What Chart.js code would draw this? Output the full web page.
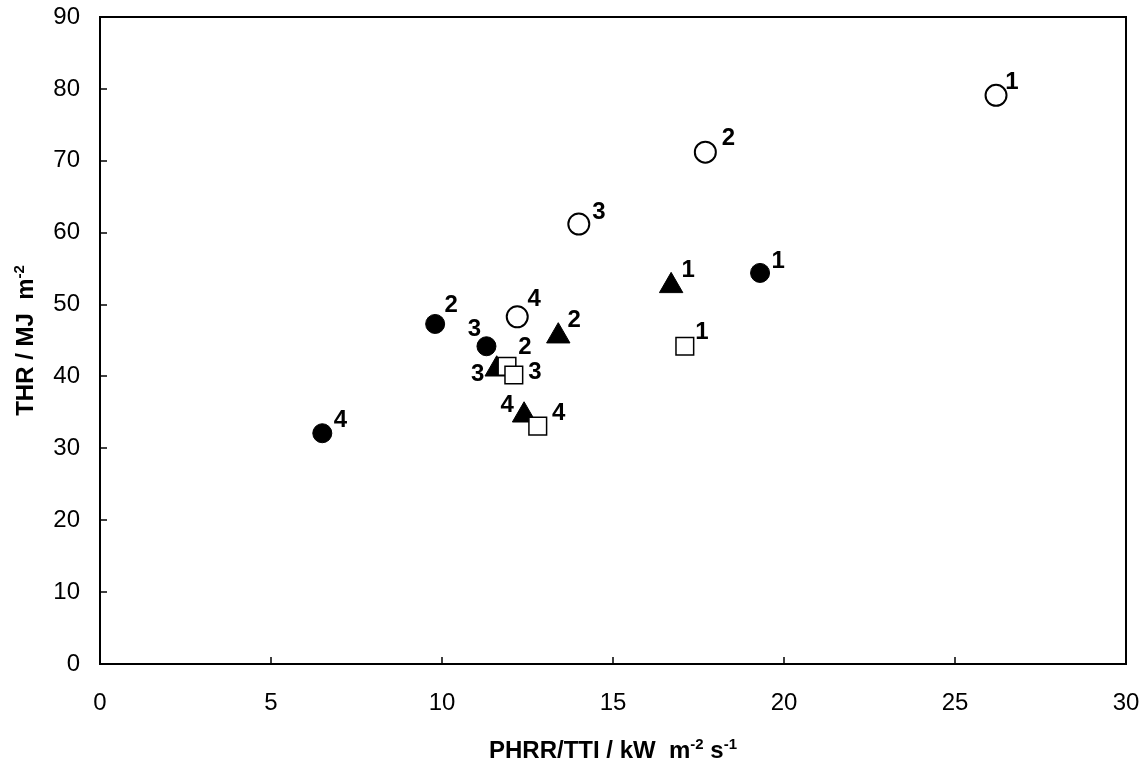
<!DOCTYPE html>
<html>
<head>
<meta charset="utf-8">
<title>THR vs PHRR/TTI</title>
<script src="https://cdn.jsdelivr.net/npm/chart.js@4"></script>
<style>
  html, body { margin: 0; padding: 0; background: #fff; }
  #wrap { width: 1146px; height: 766px; position: relative; }
</style>
</head>
<body>
<div id="wrap"><canvas id="c"></canvas></div>
<script>
// Sample numbers shown next to each marker
const pointNames = ['1', '2', '3', '4'];

// Open circles
const openCircleX = [26.2, 17.7, 14.0, 12.2];
const openCircleY = [79.1, 71.2, 61.2, 48.3];
// Filled circles
const filledCircleX = [19.3, 9.8, 11.3, 6.5];
const filledCircleY = [54.4, 47.3, 44.2, 32.1];
// Filled triangles
const triangleX = [16.7, 13.4, 11.6, 12.4];
const triangleY = [52.6, 45.6, 41.0, 34.6];
// Open squares
const squareX = [17.1, 11.9, 12.1, 12.8];
const squareY = [44.2, 41.4, 40.2, 33.1];

// Axis tick values
const xTickValues = [0, 5, 10, 15, 20, 25, 30];
const yTickValues = [0, 10, 20, 30, 40, 50, 60, 70, 80, 90];

// Where each number sits relative to its marker (pixels)
const openCircleLabelPos   = [[16, -13], [23, -14], [20, -12], [17, -17]];
const filledCircleLabelPos = [[18, -12], [16, -19], [-12, -17], [18, -13]];
const triangleLabelPos     = [[17, -15], [16, -16], [-19, 5], [-17, -10]];
const squareLabelPos       = [[17, -14], [18, -19], [21, -3], [21, -13]];

const FONT = '"Liberation Sans", Arial, Helvetica, sans-serif';

function toPoints(xs, ys) {
  return xs.map((x, i) => ({ x: x, y: ys[i] }));
}

// Plot frame and inward tick marks
const framePlugin = {
  id: 'frame',
  beforeDatasetsDraw(chart) {
    const { ctx, chartArea: a, scales: { x, y } } = chart;
    ctx.save();
    ctx.strokeStyle = '#000';
    ctx.lineWidth = 2;
    ctx.strokeRect(a.left, a.top, a.right - a.left, a.bottom - a.top);
    ctx.lineWidth = 1.5;
    ctx.beginPath();
    x.ticks.forEach(t => {
      const px = Math.round(x.getPixelForValue(t.value));
      ctx.moveTo(px, a.bottom);
      ctx.lineTo(px, a.bottom - 7);
    });
    y.ticks.forEach(t => {
      const py = Math.round(y.getPixelForValue(t.value));
      ctx.moveTo(a.left, py);
      ctx.lineTo(a.left + 7, py);
    });
    ctx.stroke();
    ctx.restore();
  }
};

// Numbers beside the markers
const pointNamePlugin = {
  id: 'pointNames',
  afterDatasetsDraw(chart) {
    const { ctx } = chart;
    ctx.save();
    ctx.fillStyle = '#000';
    ctx.font = 'bold 24px ' + FONT;
    ctx.textAlign = 'center';
    ctx.textBaseline = 'middle';
    chart.data.datasets.forEach((ds, di) => {
      const meta = chart.getDatasetMeta(di);
      meta.data.forEach((el, i) => {
        const off = ds.labelPos[i];
        ctx.fillText(pointNames[i], el.x + off[0], el.y + off[1]);
      });
    });
    ctx.restore();
  }
};

// Axis titles with superscripts
function drawRich(ctx, parts, cx, baseY) {
  const mainFont = 'bold 24px ' + FONT;
  const supFont = 'bold 15px ' + FONT;
  let total = 0;
  parts.forEach(p => {
    ctx.font = p.sup ? supFont : mainFont;
    p.w = ctx.measureText(p.t).width;
    total += p.w;
  });
  let x = cx - total / 2;
  ctx.textAlign = 'left';
  ctx.textBaseline = 'alphabetic';
  parts.forEach(p => {
    ctx.font = p.sup ? supFont : mainFont;
    ctx.fillText(p.t, x, p.sup ? baseY - 9 : baseY);
    x += p.w;
  });
}

const titlePlugin = {
  id: 'axisTitles',
  afterDraw(chart) {
    const { ctx, chartArea: a } = chart;
    ctx.save();
    ctx.fillStyle = '#000';
    drawRich(ctx, [
      { t: 'PHRR/TTI / kW  m' }, { t: '-2', sup: true },
      { t: ' s' }, { t: '-1', sup: true }
    ], (a.left + a.right) / 2, 758);
    ctx.translate(33, (a.top + a.bottom) / 2);
    ctx.rotate(-Math.PI / 2);
    drawRich(ctx, [
      { t: 'THR / MJ  m' }, { t: '-2', sup: true }
    ], 0, 0);
    ctx.restore();
  }
};

new Chart(document.getElementById('c'), {
  type: 'scatter',
  data: {
    datasets: [
      {
        label: 'open circles',
        data: toPoints(openCircleX, openCircleY),
        labelPos: openCircleLabelPos,
        pointStyle: 'circle',
        pointRadius: 10.5,
        backgroundColor: '#fff',
        borderColor: '#000',
        borderWidth: 2,
        order: 3
      },
      {
        label: 'filled circles',
        data: toPoints(filledCircleX, filledCircleY),
        labelPos: filledCircleLabelPos,
        pointStyle: 'circle',
        pointRadius: 9.5,
        backgroundColor: '#000',
        borderColor: '#000',
        borderWidth: 1,
        order: 2
      },
      {
        label: 'triangles',
        data: toPoints(triangleX, triangleY),
        labelPos: triangleLabelPos,
        pointStyle: 'triangle',
        pointRadius: 13.5,
        backgroundColor: '#000',
        borderColor: '#000',
        borderWidth: 1,
        order: 1
      },
      {
        label: 'open squares',
        data: toPoints(squareX, squareY),
        labelPos: squareLabelPos,
        pointStyle: 'rect',
        pointRadius: 12.5,
        backgroundColor: '#fff',
        borderColor: '#000',
        borderWidth: 1.5,
        order: 0
      }
    ]
  },
  options: {
    responsive: true,
    maintainAspectRatio: false,
    animation: false,
    layout: { padding: { left: 0, right: 20, top: 17, bottom: 0 } },
    plugins: {
      legend: { display: false },
      tooltip: { enabled: false }
    },
    scales: {
      x: {
        type: 'linear',
        min: 0,
        max: 30,
        grid: { display: false, drawTicks: false },
        border: { display: false },
        afterBuildTicks(scale) { scale.ticks = xTickValues.map(v => ({ value: v })); },
        afterFit(scale) {
          scale.height = 102;
          scale.paddingLeft = 0;
          scale.paddingRight = 0;
        },
        ticks: { padding: 25, color: '#000', font: { family: FONT, size: 24 } }
      },
      y: {
        type: 'linear',
        min: 0,
        max: 90,
        grid: { display: false, drawTicks: false },
        border: { display: false },
        afterBuildTicks(scale) { scale.ticks = yTickValues.map(v => ({ value: v })); },
        afterFit(scale) {
          scale.width = 100;
          scale.paddingTop = 0;
          scale.paddingBottom = 0;
        },
        ticks: { padding: 20, color: '#000', font: { family: FONT, size: 24 } }
      }
    }
  },
  plugins: [framePlugin, pointNamePlugin, titlePlugin]
});
</script>
</body>
</html>
